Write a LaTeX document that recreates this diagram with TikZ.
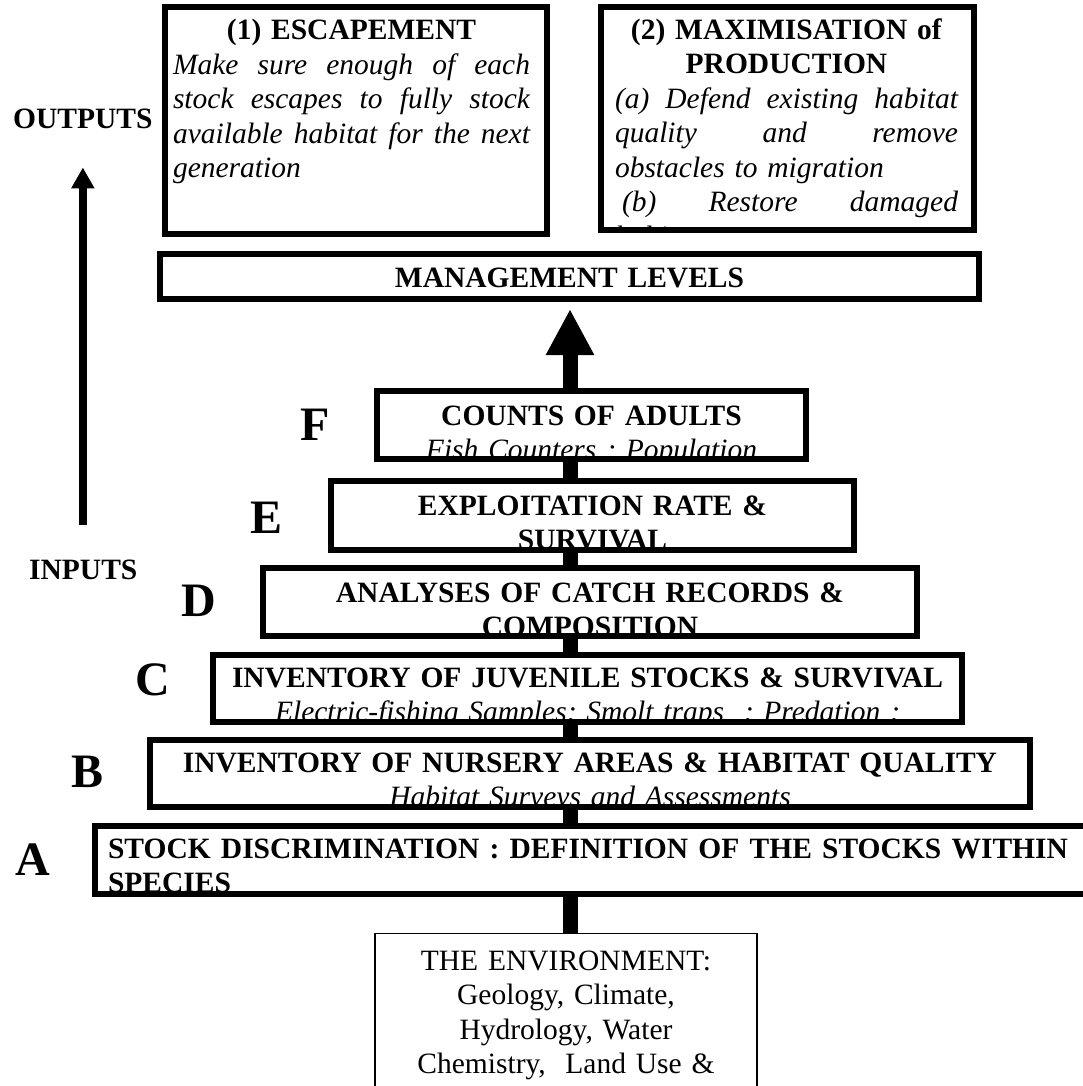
\documentclass[tikz,border=0pt]{standalone}
\usepackage{fontspec}
\setmainfont{Liberation Serif}
\usetikzlibrary{arrows.meta,calc}
% a line set to the full width with the word spaces stretched
\newcommand\jline[2][0pt]{\makebox[\linewidth][l]{\spaceskip=.25em plus 1fill\relax\hspace*{#1}#2}}
\begin{document}
\begin{tikzpicture}[x=1pt,y=-1pt,
  lvl/.style={draw, line width=6pt, outer sep=0pt, inner sep=0pt, anchor=north west},
  envbox/.style={draw, line width=1.5pt, outer sep=0pt, inner sep=0pt, anchor=north west},
  txt/.style={inner sep=0pt, outer sep=0pt, align=center, anchor=base,
              font=\fontsize{29.5}{34.5}\selectfont},
  tag/.style={inner sep=0pt, anchor=base west, font=\fontsize{48}{48}\selectfont\bfseries},
  side/.style={inner sep=0pt, anchor=base west, font=\fontsize{29.5}{34.5}\selectfont\bfseries},
  spinelink/.style={line width=15pt},
]
\useasboundingbox (0,0) rectangle (1083,1086);
\clip (0,0) rectangle (1083,1086);

% objectives and management level
\node[lvl, minimum width=382pt, minimum height=227pt] (esc) at (165,7) {};
\node[lvl, minimum width=373pt, minimum height=223pt] (max) at (601,7) {};
\node[lvl, minimum width=819pt, minimum height=45pt] (mgmt) at (160,254) {};

% information levels A-F
\node[lvl, minimum width=429pt, minimum height=68pt] (F) at (377,391) {};
\node[lvl, minimum width=523pt, minimum height=69pt] (E) at (331,481) {};
\node[lvl, minimum width=654pt, minimum height=68pt] (D) at (263,568) {};
\node[lvl, minimum width=749pt, minimum height=67pt] (C) at (213,655) {};
\node[lvl, minimum width=880pt, minimum height=67pt] (B) at (150,740) {};
\node[lvl, minimum width=1000pt, minimum height=68pt] (A) at (95,826) {};
\node[envbox, minimum width=382pt, minimum height=200pt] (env) at (375,933.5) {};

% box contents, cut off at the box edges
\begin{scope}
  \clip (esc.north west) rectangle (esc.south east);
  \node[txt, text width=357pt] (esctext) at (351.5,40) {%
    \textbf{(1) ESCAPEMENT}\\
    \itshape\jline{Make sure enough of each}\\
    \jline{stock escapes to fully stock}\\
    \jline{available habitat for the next}\\
    \makebox[\linewidth][l]{generation}};
\end{scope}
\begin{scope}
  \clip (max.north west) rectangle (max.south east);
  \node[txt, text width=343pt] (maxtext) at (786.5,39.5) {%
    \textbf{(2) MAXIMISATION of}\\
    \textbf{PRODUCTION}\\
    \itshape\jline{(a) Defend existing habitat}\\
    \jline{quality and remove}\\
    \makebox[\linewidth][l]{obstacles to migration}\\
    \jline[7pt]{(b) Restore damaged}\\
    \makebox[\linewidth][l]{habitat}};
\end{scope}
\node[txt, text width=800pt] (mgmttext) at (569.5,287) {\textbf{MANAGEMENT LEVELS}};

\begin{scope}
  \clip (F.north west) rectangle (F.south east);
  \node[txt, text width=420pt] (Ftext) at (591.5,425) {%
    \textbf{COUNTS OF ADULTS}\\\textit{Fish Counters ; Population}};
\end{scope}
\begin{scope}
  \clip (E.north west) rectangle (E.south east);
  \node[txt, text width=510pt] (Etext) at (592.5,515) {%
    \textbf{EXPLOITATION RATE \&}\\\textbf{SURVIVAL}};
\end{scope}
\begin{scope}
  \clip (D.north west) rectangle (D.south east);
  \node[txt, text width=640pt] (Dtext) at (590,602) {%
    \textbf{ANALYSES OF CATCH RECORDS \&}\\\textbf{COMPOSITION}};
\end{scope}
\begin{scope}
  \clip (C.north west) rectangle (C.south east);
  \node[txt, text width=740pt] (Ctext) at (587.5,687) {%
    \textbf{INVENTORY OF JUVENILE STOCKS \& SURVIVAL}\\
    \textit{Electric-fishing Samples; Smolt traps\ \ ; Predation ;}};
\end{scope}
\begin{scope}
  \clip (B.north west) rectangle (B.south east);
  \node[txt, text width=870pt] (Btext) at (590,772) {%
    \textbf{INVENTORY OF NURSERY AREAS \& HABITAT QUALITY}\\
    \textit{Habitat Surveys and Assessments}};
\end{scope}
\begin{scope}
  \clip (A.north west) rectangle (A.south east);
  \node[txt, anchor=base west, align=left, text width=960pt] (Atext) at (108,858) {%
    \bfseries\jline{STOCK DISCRIMINATION : DEFINITION OF THE STOCKS WITHIN}\\
    SPECIES};
\end{scope}
\node[txt, text width=370pt] (envtext) at (566,970) {%
  THE ENVIRONMENT:\\Geology, Climate,\\Hydrology, Water\\Chemistry,\ \ Land Use \&};

% level letters
\node[tag] (tF) at (300,440) {F};
\node[tag] (tE) at (250,533) {E};
\node[tag] (tD) at (181,616) {D};
\node[tag] (tC) at (135,695) {C};
\node[tag] (tB) at (71,787) {B};
\node[tag] (tA) at (15,875) {A};

% inputs -> outputs
\node[side] (out) at (13,129) {OUTPUTS};
\node[side] (in) at (29,579) {INPUTS};
\draw[line width=8pt, -{Triangle[width=22pt,length=21pt]}, shorten <=34pt, shorten >=38pt]
  (out.south |- in.north) -- (out.south);

% central spine
\coordinate (spine) at (570,0);
\draw[spinelink, -{Triangle[width=45pt,length=46pt]}]
  (spine |- F.north) -- ($(spine |- mgmt.south)+(0,10)$);
\foreach \u/\l in {F/E, E/D, D/C, C/B, B/A, A/env}
  \draw[spinelink] (spine |- \u.south) -- (spine |- \l.north);
\end{tikzpicture}
\end{document}
